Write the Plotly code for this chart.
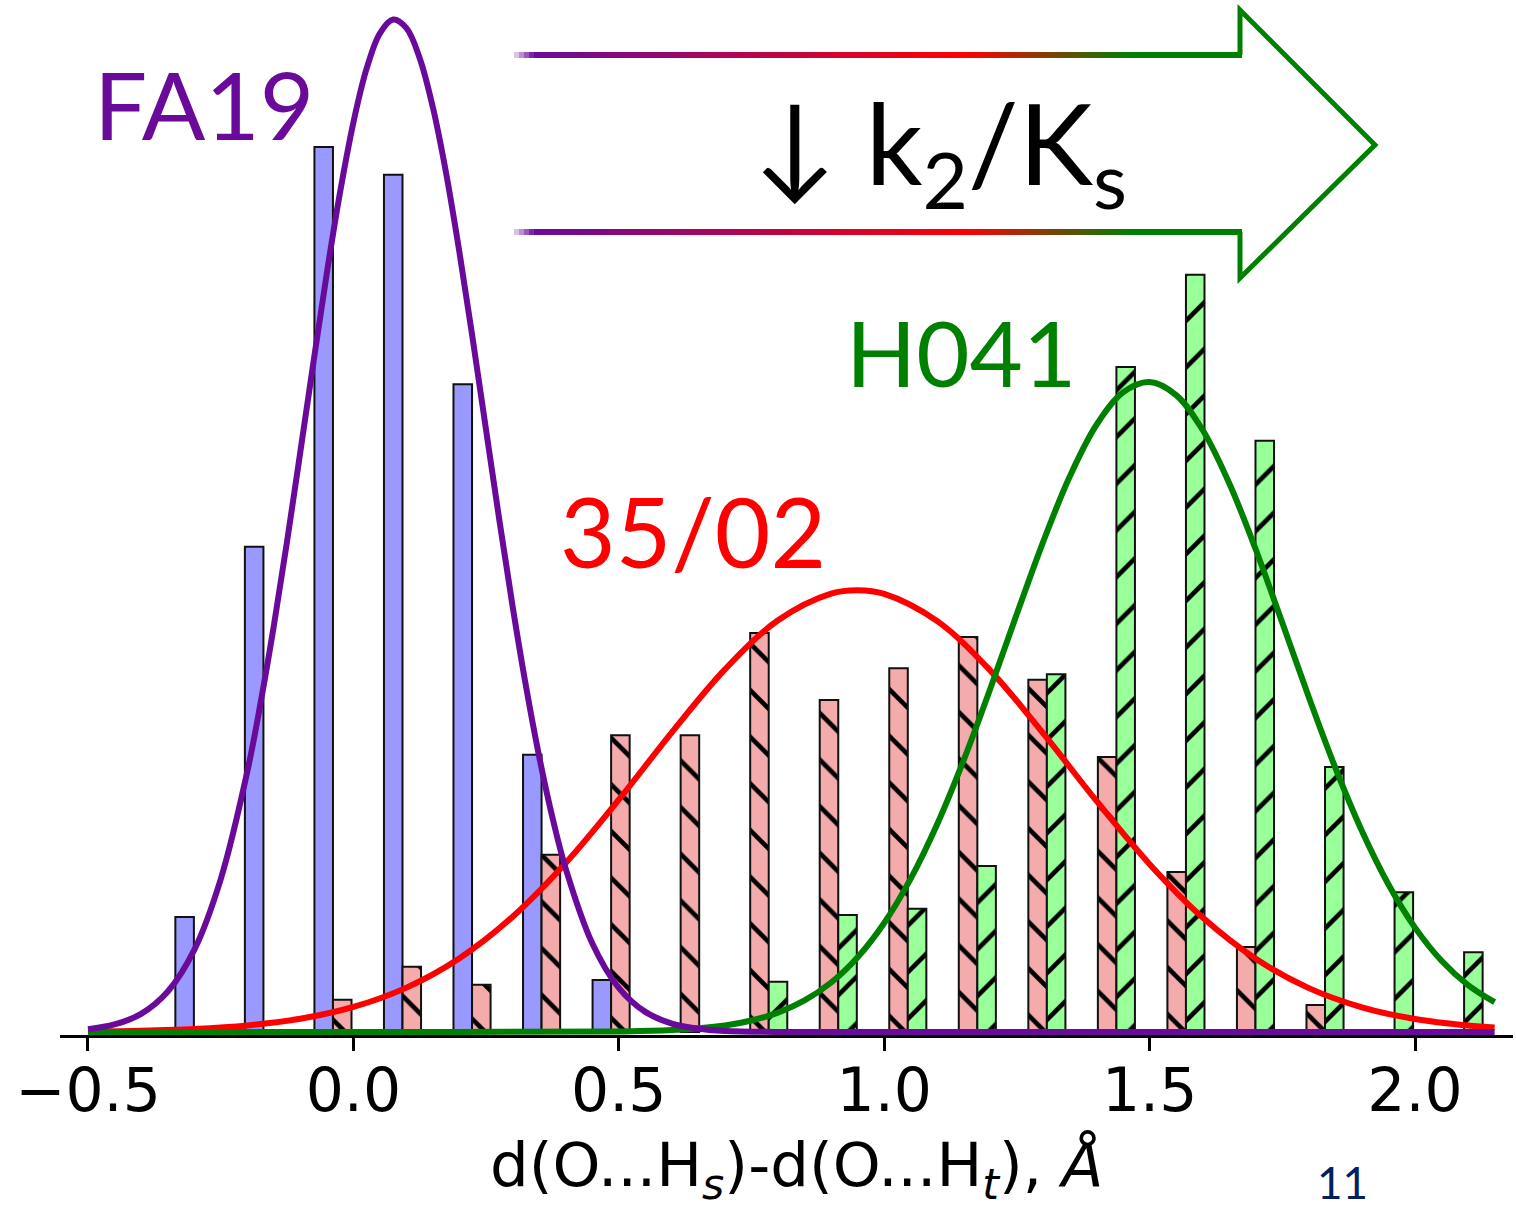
import plotly.graph_objects as go

# ---------------- data ----------------
bin_centers = [-0.283, -0.152, -0.021, 0.110, 0.241, 0.372, 0.503, 0.634, 0.765, 0.896,
               1.027, 1.158, 1.289, 1.420, 1.551, 1.682, 1.813, 1.944, 2.075]
fa19_hist = [0.268, 1.131, 2.063, 1.998, 1.510, 0.646, 0.121,
             None, None, None, None, None, None, None, None, None, None, None, None]
s3502_hist = [None, None, 0.075, 0.152, 0.110, 0.413, 0.692, 0.692, 0.930, 0.774, 0.848,
              0.921, 0.821, 0.641, 0.373, 0.198, 0.063, None, None]
h041_hist = [None, None, None, None, None, None, None, None,
             0.117, 0.273, 0.287, 0.387, 0.834, 1.550, 1.765, 1.378, 0.618, 0.326, 0.186]

fa19_curve_x = [-0.50, -0.45, -0.40, -0.35, -0.30, -0.25, -0.20, -0.175, -0.15, -0.125, -0.10,
                -0.075, -0.05, -0.025, 0.00, 0.025, 0.05, 0.075, 0.10, 0.125, 0.15, 0.175,
                0.20, 0.225, 0.25, 0.275, 0.30, 0.325, 0.35, 0.375, 0.40, 0.45, 0.50, 0.55,
                0.60, 0.65, 0.70, 0.80, 1.20, 1.60, 2.15]
fa19_curve_y = [0.0066, 0.0175, 0.0424, 0.094, 0.191, 0.356, 0.606, 0.766, 0.946, 1.143, 1.352,
                1.563, 1.769, 1.958, 2.120, 2.246, 2.328, 2.360, 2.340, 2.270, 2.154, 2.000,
                1.816, 1.614, 1.403, 1.193, 0.992, 0.807, 0.642, 0.500, 0.381, 0.207, 0.103,
                0.0469, 0.0196, 0.0075, 0.0026, 0.0, 0.0, 0.0, 0.0]

s3502_curve_x = [-0.50, -0.40, -0.30, -0.20, -0.10, 0.00, 0.10, 0.20, 0.30, 0.40, 0.50, 0.60,
                 0.70, 0.80, 0.90, 0.95, 1.00, 1.10, 1.20, 1.30, 1.40, 1.50, 1.60, 1.70, 1.80,
                 1.90, 2.00, 2.10, 2.15]
s3502_curve_y = [0.0013, 0.0031, 0.0071, 0.0153, 0.0308, 0.0583, 0.1034, 0.1721, 0.2688, 0.394,
                 0.5416, 0.6985, 0.8452, 0.9597, 1.022, 1.030, 1.0215, 0.9578, 0.8425, 0.6953,
                 0.5385, 0.3912, 0.2667, 0.1705, 0.1023, 0.0576, 0.0304, 0.0151, 0.0104]

h041_curve_x = [-0.50, 0.00, 0.50, 0.60, 0.70, 0.75, 0.80, 0.85, 0.90, 0.95, 1.00, 1.05, 1.10,
                1.15, 1.20, 1.25, 1.30, 1.35, 1.40, 1.45, 1.50, 1.55, 1.60, 1.65, 1.70, 1.75,
                1.80, 1.85, 1.90, 1.95, 2.00, 2.05, 2.10, 2.15]
h041_curve_y = [0.0, 0.0, 0.0011, 0.0045, 0.0153, 0.0268, 0.0452, 0.0735, 0.1153, 0.1743, 0.2541,
                0.3574, 0.4848, 0.6345, 0.8008, 0.9748, 1.1444, 1.2959, 1.4155, 1.4909, 1.515,
                1.4845, 1.4032, 1.2791, 1.1247, 0.9537, 0.7802, 0.6156, 0.4684, 0.3438, 0.2433,
                0.1661, 0.1094, 0.0695]

tick_vals = [-0.5, 0.0, 0.5, 1.0, 1.5, 2.0]
tick_text = ["\u22120.5", "0.0", "0.5", "1.0", "1.5", "2.0"]

# ---------------- style ----------------
PURPLE = "#6a0a9b"
RED = "#ff0000"
GREEN = "#008000"
W, H = 1516, 1207
ML, MR, MT, MB = 60, 3, 0, 172
PW = W - ML - MR
PH = H - MT - MB


def px(x):
    return (x - ML) / PW


def py(y):
    return (MT + PH - y) / PH


fig = go.Figure()

bar_line = dict(color="#111111", width=2)
fig.add_trace(go.Bar(x=bin_centers, y=fa19_hist, name="FA19",
                     marker=dict(color="#9999ff", line=bar_line)))
fig.add_trace(go.Bar(x=bin_centers, y=s3502_hist, name="35/02",
                     marker=dict(color="#f4abab", line=bar_line,
                                 pattern=dict(shape="\\", fgcolor="black", bgcolor="#f4abab",
                                              fgopacity=1, size=33, solidity=0.14))))
fig.add_trace(go.Bar(x=bin_centers, y=h041_hist, name="H041",
                     marker=dict(color="#99ff99", line=bar_line,
                                 pattern=dict(shape="/", fgcolor="black", bgcolor="#99ff99",
                                              fgopacity=1, size=33, solidity=0.14))))

fig.add_trace(go.Scatter(x=s3502_curve_x, y=s3502_curve_y, mode="lines",
                         line=dict(color=RED, width=6, shape="spline", smoothing=1.0)))
fig.add_trace(go.Scatter(x=h041_curve_x, y=h041_curve_y, mode="lines",
                         line=dict(color=GREEN, width=6, shape="spline", smoothing=1.0)))
fig.add_trace(go.Scatter(x=fa19_curve_x, y=fa19_curve_y, mode="lines",
                         line=dict(color=PURPLE, width=6, shape="spline", smoothing=1.0)))

# ---------------- gradient arrow ----------------
stops = [(514, (235, 220, 242)), (534, (106, 10, 155)), (965, (255, 0, 0)),
         (1131, (0, 128, 0)), (1242, (0, 128, 0))]


def color_at(x):
    for (x0, c0), (x1, c1) in zip(stops[:-1], stops[1:]):
        if x0 <= x <= x1:
            t = (x - x0) / (x1 - x0)
            return "rgb(%d,%d,%d)" % tuple(round(a + (b - a) * t) for a, b in zip(c0, c1))
    return "rgb(0,128,0)"


shapes = []
step = 5
xs = list(range(514, 1242, step))
for yline in (55, 232):
    for x0 in xs:
        x1 = min(x0 + step + 0.6, 1242)
        shapes.append(dict(type="line", xref="paper", yref="paper",
                           x0=px(x0), x1=px(x1), y0=py(yline), y1=py(yline),
                           line=dict(color=color_at(x0 + step / 2), width=6)))
head = "M %f,%f L %f,%f L %f,%f L %f,%f L %f,%f" % (
    px(1240), py(55), px(1240), py(10), px(1375), py(145),
    px(1240), py(278), px(1240), py(232))
shapes.append(dict(type="path", xref="paper", yref="paper", path=head,
                   line=dict(color=GREEN, width=5)))

annotations = [
    dict(text="FA19", x=px(204), y=py(103), xref="paper", yref="paper", showarrow=False,
         font=dict(family="Lato", size=94, color=PURPLE), xanchor="center", yanchor="middle"),
    dict(text="35/02", x=px(693), y=py(530), xref="paper", yref="paper", showarrow=False,
         font=dict(family="Lato", size=96, color=RED), xanchor="center", yanchor="middle"),
    dict(text="H041", x=px(961), y=py(351), xref="paper", yref="paper", showarrow=False,
         font=dict(family="Lato", size=92, color=GREEN), xanchor="center", yanchor="middle"),
    dict(text="\u2193 k<sub>2</sub>/K<sub>s</sub>", x=px(940), y=py(150), xref="paper",
         yref="paper", showarrow=False,
         font=dict(family="Lato", size=112, color="black"), xanchor="center", yanchor="middle"),
    dict(text="11", x=px(1342), y=py(1182), xref="paper", yref="paper", showarrow=False,
         font=dict(family="Lato", size=44, color="#002060"), xanchor="center", yanchor="middle"),
    dict(text="d(O...H<sub><i>s</i></sub>)-d(O...H<sub><i>t</i></sub>), <i>Å</i>",
         x=px(796), y=py(1169), xref="paper", yref="paper", showarrow=False,
         font=dict(family="DejaVu Sans", size=61, color="black"),
         xanchor="center", yanchor="middle"),
]

fig.update_layout(
    width=W, height=H,
    margin=dict(l=ML, r=MR, t=MT, b=MB, pad=0),
    paper_bgcolor="white", plot_bgcolor="white",
    barmode="group", bargap=0.2, bargroupgap=0.0,
    showlegend=False,
    shapes=shapes, annotations=annotations,
    xaxis=dict(range=[-0.5527, 2.1846], tickvals=tick_vals, ticktext=tick_text,
               showline=True, linecolor="black", linewidth=3, ticks="outside",
               ticklen=13, tickwidth=2.5, tickcolor="black", showgrid=False,
               ticklabelstandoff=-12,
               zeroline=False, tickfont=dict(family="DejaVu Sans", size=60, color="black")),
    yaxis=dict(visible=False, range=[-0.007, 2.4056], showgrid=False, zeroline=False),
)

fig.write_html("out.html", config={"displayModeBar": False},
               post_script="document.body.style.margin='0px';document.body.style.overflow='hidden';")
